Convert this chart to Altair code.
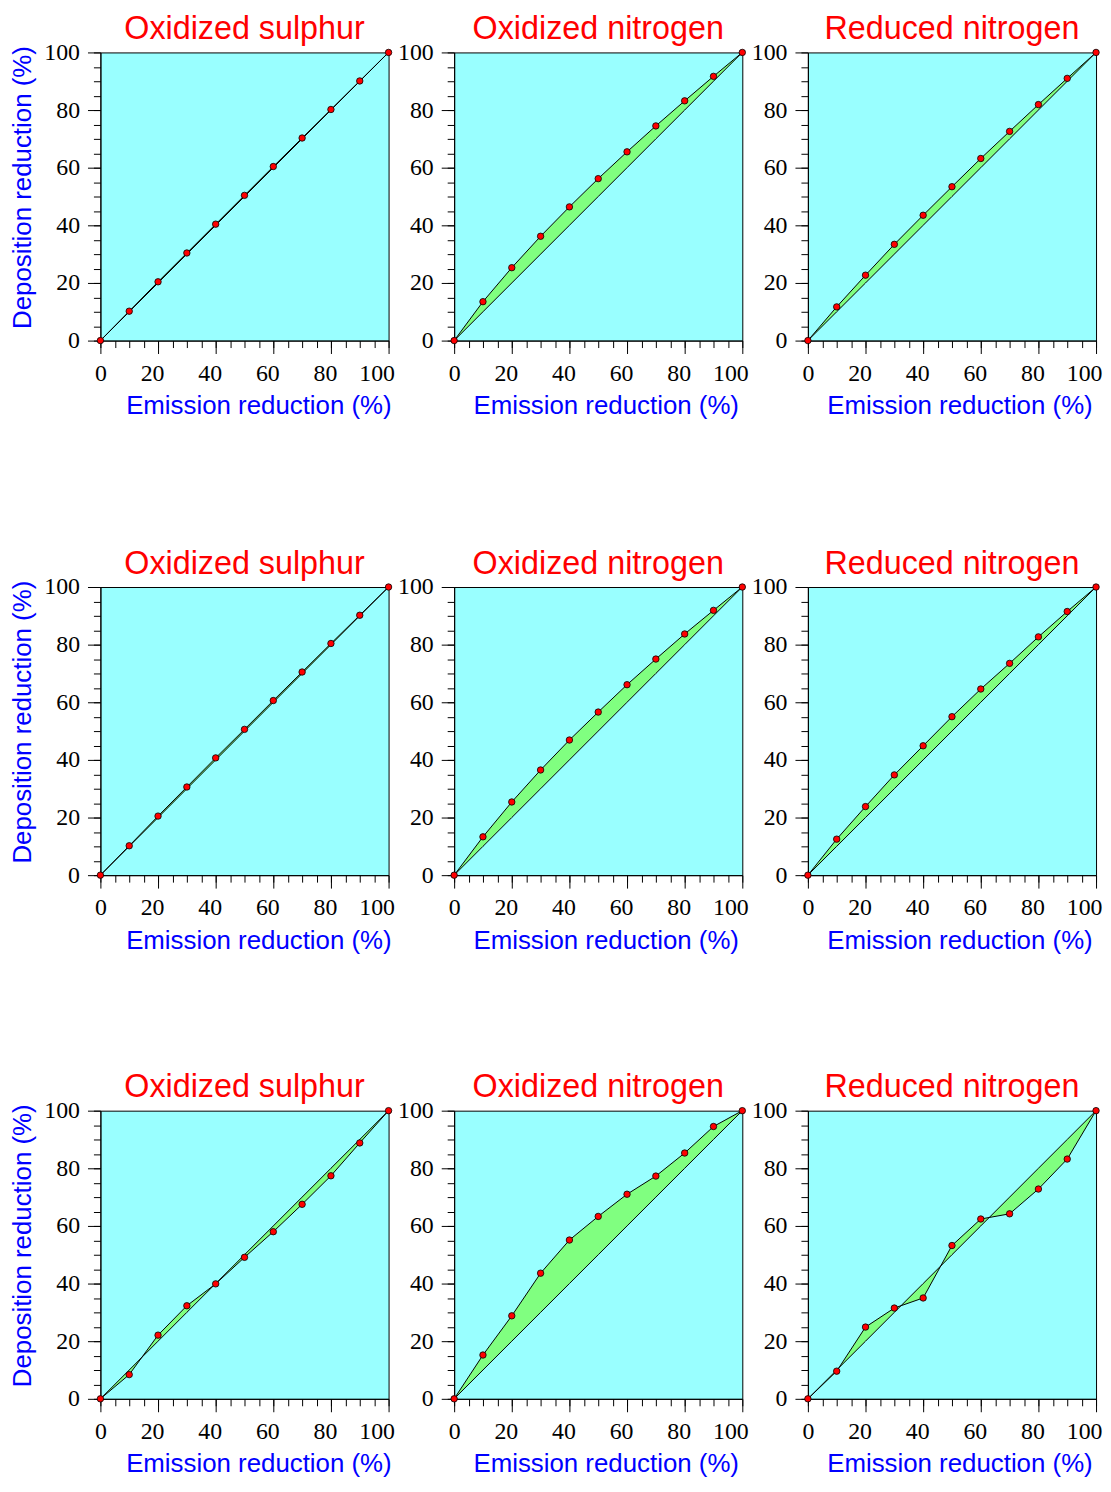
import altair as alt
import pandas as pd

emission = [0, 10, 20, 30, 40, 50, 60, 70, 80, 90, 100]
titles = ["Oxidized sulphur", "Oxidized nitrogen", "Reduced nitrogen"]

r1_sox = [0, 10.2, 20.4, 30.4, 40.4, 50.4, 60.4, 70.3, 80.2, 90.1, 100]
r1_nox = [0, 13.5, 25.3, 36.2, 46.4, 56.2, 65.5, 74.5, 83.2, 91.7, 100]
r1_nhx = [0, 11.7, 22.7, 33.4, 43.5, 53.4, 63.2, 72.6, 81.9, 91.0, 100]

r2_sox = [0, 10.2, 20.5, 30.6, 40.7, 50.6, 60.6, 70.5, 80.4, 90.2, 100]
r2_nox = [0, 13.3, 25.4, 36.5, 46.9, 56.6, 66.1, 75.0, 83.7, 91.9, 100]
r2_nhx = [0, 12.5, 23.8, 34.8, 44.9, 55.0, 64.6, 73.5, 82.7, 91.5, 100]

r3_sox = [0, 8.4, 22.1, 32.3, 39.9, 49.1, 58.0, 67.5, 77.4, 88.8, 100]
r3_nox = [0, 15.2, 28.8, 43.6, 55.1, 63.3, 71.0, 77.3, 85.3, 94.5, 100]
r3_nhx = [0, 9.6, 24.9, 31.5, 35.0, 53.2, 62.4, 64.2, 72.8, 83.2, 100]

rows = [[r1_sox, r1_nox, r1_nhx], [r2_sox, r2_nox, r2_nhx], [r3_sox, r3_nox, r3_nhx]]

major_ticks = [0, 20, 40, 60, 80, 100]
minor_ticks = list(range(0, 101, 5))

SANS = "Liberation Sans"
SERIF = "Liberation Serif"
x_title_center = [159, 152.5, 152.5]


def panel(vals, title, col, x_title, x_lh):
    df = pd.DataFrame({"e": emission, "d": vals, "diag": emission})
    xs = alt.Scale(domain=[0, 100], nice=False, zero=False)
    ys = alt.Scale(domain=[0, 100], nice=False, zero=False)

    xax = alt.Axis(values=major_ticks, tickSize=13, orient="bottom",
                   title=x_title, titleLineHeight=x_lh, grid=False,
                   titleX=x_title_center[col], titleAlign="center",
                   labelAlign="right", labelOffset=6, labelFlush=False,
                   labelOverlap=False, labelPadding=8, titlePadding=7.5)
    if col == 0:
        yax = alt.Axis(values=major_ticks, tickSize=13, orient="left",
                       title="Deposition reduction (%)", titleY=135.5, titleAlign="center",
                       grid=False, labelFlush=False, labelOverlap=False,
                       labelPadding=8, titlePadding=8)
    else:
        yax = alt.Axis(values=major_ticks, tickSize=13, orient="left", title=None,
                       grid=False, labelFlush=False, labelOverlap=False, labelPadding=8)
    xmin = alt.Axis(values=minor_ticks, tickSize=7, orient="bottom", labels=False,
                    domain=False, grid=False, title=None)
    ymin = alt.Axis(values=minor_ticks, tickSize=7, orient="left", labels=False,
                    domain=False, grid=False, title=None)

    base = alt.Chart(df)
    minor = base.mark_point(opacity=0).encode(
        x=alt.X("e:Q", scale=xs, axis=xmin),
        y=alt.Y("diag:Q", scale=ys, axis=ymin),
    )
    area = base.mark_area(color="#80ff80", opacity=1).encode(
        x=alt.X("e:Q", scale=xs, axis=xax),
        y=alt.Y("d:Q", scale=ys, axis=yax),
        y2="diag:Q",
    )
    diag = base.mark_line(color="black", strokeWidth=1).encode(x="e:Q", y="diag:Q")
    line = base.mark_line(color="black", strokeWidth=1).encode(x="e:Q", y="d:Q")
    pts = base.mark_point(filled=True, fill="#ff0000", stroke="black", strokeWidth=0.8,
                          size=42, opacity=1, shape="circle").encode(x="e:Q", y="d:Q")
    main = alt.layer(area, diag, line, pts)
    return alt.layer(minor, main).resolve_scale(x="independent", y="independent").properties(
        width=290, height=290,
        title=alt.TitleParams(title, color="#ff0000", font=SANS, fontSize=32.5,
                              fontWeight="normal", anchor="middle", offset=-31,
                              baseline="alphabetic"),
    )


row_charts = []
for r, vals_row in enumerate(rows):
    if r == 0:
        xt, lh = ["Emission reduction (%)", ""], 10.5
    else:
        xt, lh = "Emission reduction (%)", 26
    row_charts.append(alt.hconcat(*[panel(v, t, i, xt, lh)
                                    for i, (v, t) in enumerate(zip(vals_row, titles))],
                                  spacing=66, bounds="flush"))

chart = alt.vconcat(*row_charts, spacing=118)

chart = chart.configure_view(fill="#99ffff", stroke="black", strokeWidth=1).configure_axis(
    domainColor="black", tickColor="black", labelColor="black", labelFont=SERIF,
    labelFontSize=24, titleFont=SANS, titleFontSize=26, titleFontWeight="normal",
    titleColor="#0000ff", domainWidth=1, tickWidth=1,
).properties(padding={"left": 1, "top": 0, "right": 0, "bottom": 0}, background="white")

chart.save("out.html", embed_options={"renderer": "svg", "actions": False})
